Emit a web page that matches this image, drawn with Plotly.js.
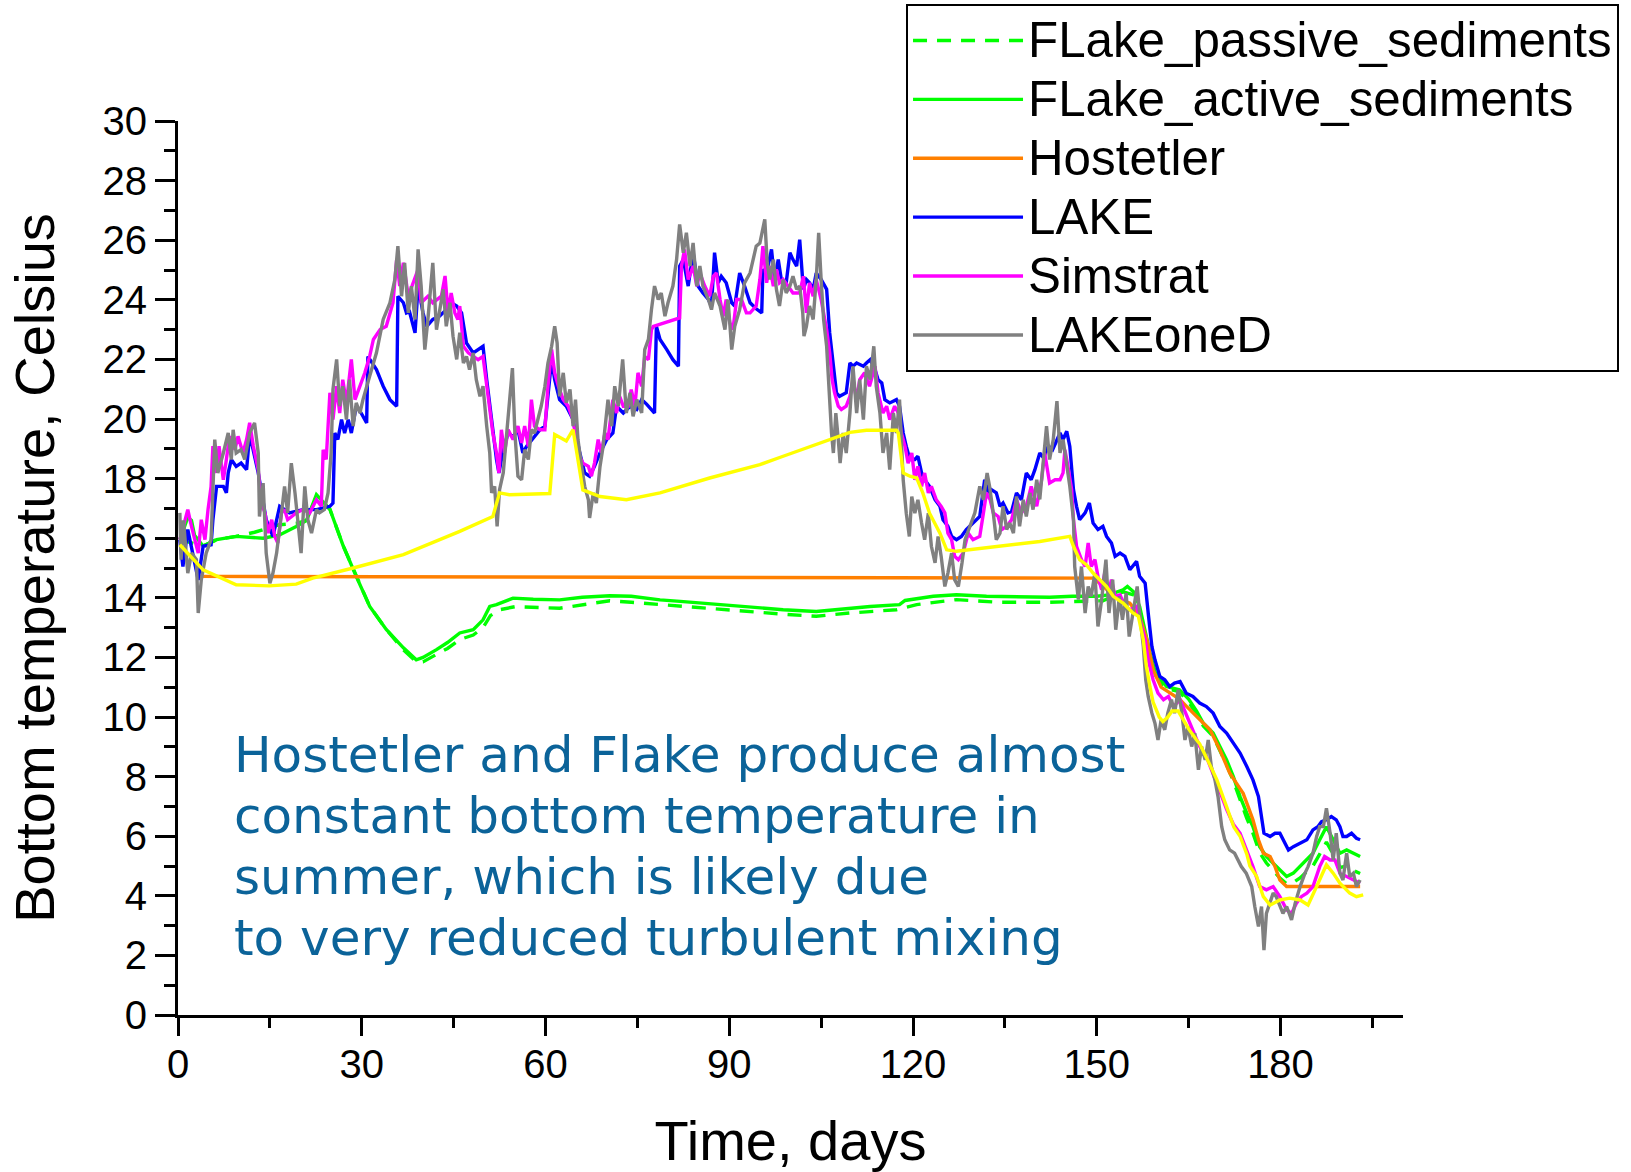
<!DOCTYPE html>
<html>
<head>
<meta charset="utf-8">
<script src="https://cdn.plot.ly/plotly-3.0.1.min.js"></script>
<style>
  html, body { margin: 0; padding: 0; background: #ffffff; }
  #chart { width: 1631px; height: 1172px; }
</style>
</head>
<body>
<div id="chart"></div>
<script>
// ---------------- DATA ----------------
// Time in days, bottom temperature in Celsius

const dayPassive = [0.3,4.1,6.3,9.5,12.5,14.0,16.5,19.3,21.0,22.6,24.8,27.0,29.1,31.3,34.0,36.8,38.9,40.0,42.2,44.0,46.0,48.2,49.8,51.0,52.5,55.0,62.3,66.0,70.5,74.0,78.7,86.8,95.0,98.8,104.2,109.7,117.3,120.6,127.1,134.0,142.0,148.0,151.0,154.3,156.0,157.0,158.0,158.7,159.6,161.4,163.5,165.0,166.3,167.4,169.0,170.1,171.2,172.3,173.4,174.5,175.5,176.6,177.7,178.8,179.9,181.0,182.1,183.2,184.3,185.3,186.4,187.5,188.6,189.7,190.8,191.9,193.0];
const tPassive = [15.95,15.74,15.95,16.06,16.2,16.3,16.45,16.5,16.6,17.4,16.97,15.73,14.72,13.71,12.94,12.25,11.85,11.85,12.1,12.3,12.6,12.75,13.0,13.4,13.6,13.7,13.65,13.75,13.9,13.85,13.77,13.65,13.49,13.45,13.38,13.49,13.6,13.77,13.94,13.85,13.85,13.9,13.9,14.2,14.1,13.6,12.7,12.05,11.4,10.95,10.85,10.5,10.1,9.7,9.35,8.9,8.4,7.85,7.2,6.6,6.1,5.45,5.1,4.85,4.6,4.4,4.45,4.6,4.8,5.0,5.4,5.8,5.4,4.95,5.0,4.85,4.75];

const dayActive = [0.3,1.0,1.6,2.2,2.7,4.1,6.3,9.5,13.9,16.5,19.3,21.0,22.6,24.8,27.0,29.1,31.3,34.0,36.8,38.9,40.0,42.2,44.0,46.0,48.2,49.8,50.9,52.0,54.7,58.0,62.3,66.0,70.5,74.0,78.7,82.0,86.8,91.0,95.0,98.8,104.2,109.0,113.0,117.8,118.7,123.3,127.1,132.0,138.0,142.3,146.0,150.0,152.0,154.3,155.0,156.0,157.0,158.0,158.7,159.6,161.4,163.5,165.0,166.3,167.4,169.0,170.1,171.2,172.3,173.4,174.5,175.5,176.6,177.7,178.8,179.9,181.0,182.1,183.2,184.3,185.3,186.4,187.5,188.6,189.7,190.8,191.9,193.0];
const tActive = [15.95,16.4,16.7,16.6,16.1,15.74,15.95,16.06,16.0,16.1,16.39,16.6,17.46,16.97,15.73,14.72,13.71,12.94,12.32,11.92,12.0,12.26,12.5,12.82,12.93,13.26,13.71,13.77,13.99,13.95,13.93,14.02,14.07,14.05,13.93,13.88,13.8,13.72,13.65,13.6,13.54,13.64,13.71,13.77,13.91,14.05,14.1,14.05,14.04,14.02,14.05,14.05,14.1,14.27,14.38,14.2,13.71,12.8,12.14,11.47,11.02,10.91,10.6,10.2,9.79,9.46,9.01,8.56,8.0,7.33,6.77,6.32,5.65,5.32,5.09,4.87,4.65,4.76,4.98,5.2,5.43,5.88,6.32,5.88,5.43,5.54,5.43,5.32];

const dayHost = [3.0,50.0,100.0,149.5,151.0,153.0,155.4,157.0,158.2,159.2,160.5,162.0,163.5,164.7,166.8,168.5,170.1,171.7,172.8,173.9,174.7,175.5,176.4,177.2,178.3,179.1,179.9,181.0,193.0];
const tHost = [14.72,14.70,14.68,14.66,14.4,14.0,13.82,13.38,12.59,11.58,11.0,10.8,10.6,10.35,9.9,9.57,8.9,8.12,7.78,7.44,7.0,6.55,5.88,5.43,5.32,4.98,4.53,4.31,4.31];

const dayLake = [0.3,0.8,1.6,2.4,3.3,4.1,5.4,5.7,6.3,7.4,7.9,8.2,8.7,9.5,10.3,11.2,11.7,13.1,14.4,15.5,16.6,18.2,20.4,22.6,24.8,25.3,25.6,26.1,26.7,27.2,27.8,28.3,29.1,29.9,30.8,31.0,32.4,33.5,34.6,35.7,35.9,36.8,37.3,37.8,38.7,39.2,40.0,40.6,41.6,42.7,43.8,44.6,45.5,46.3,47.1,48.2,49.0,49.8,50.4,50.9,51.4,52.0,52.4,53.1,53.9,54.7,55.5,56.3,56.9,57.7,59.1,59.9,60.4,61.0,61.5,62.3,63.4,64.5,65.6,66.4,67.2,68.0,68.9,70.0,71.0,71.6,72.7,73.8,74.9,75.7,76.5,77.8,78.1,78.7,79.8,80.8,81.7,81.9,82.5,83.3,84.1,84.9,85.7,86.6,87.1,87.6,88.2,88.7,89.5,90.4,90.9,91.7,92.5,93.4,94.4,95.3,95.5,96.1,96.9,97.4,98.0,98.5,99.3,99.9,100.4,101.0,101.5,102.1,102.6,103.1,103.7,104.2,105.0,105.9,106.4,107.0,107.5,108.0,109.1,109.7,110.2,110.8,111.9,112.4,113.0,113.8,114.3,114.9,115.4,116.2,117.3,117.8,118.4,118.9,119.5,120.3,120.8,121.4,121.9,122.7,123.6,124.4,124.9,125.7,126.3,127.1,127.9,128.7,129.8,130.9,131.7,132.3,132.8,133.6,134.2,134.7,135.5,136.1,136.9,137.7,138.5,139.3,139.9,140.7,141.3,142.1,142.8,144.0,144.5,145.1,145.6,146.2,146.7,147.2,148.1,148.8,149.4,150.2,151.0,151.6,152.4,153.0,153.8,154.6,155.4,156.5,157.0,157.9,158.4,159.0,159.5,160.3,161.1,161.9,162.7,163.6,164.6,165.7,166.8,167.9,169.0,170.1,171.2,172.3,173.4,174.5,175.5,176.4,176.9,177.3,178.3,179.1,179.9,180.7,181.3,182.1,183.2,184.3,185.3,186.1,186.7,187.5,188.3,189.1,189.7,190.2,190.8,191.6,192.4,193.0];
const tLake = [15.95,15.05,16.29,15.5,14.6,15.73,15.78,16.62,17.74,17.74,17.52,18.19,18.64,18.41,18.52,18.3,19.5,18.19,16.62,16.06,17.07,16.85,16.96,16.96,17.07,17.18,19.53,19.31,19.98,19.53,19.98,19.53,20.43,20.2,19.87,22.1,21.66,21.1,20.65,20.43,24.12,23.9,23.56,23.6,22.89,24.46,23.56,23.11,23.34,23.45,23.67,23.9,23.79,23.56,22.55,22.22,22.33,22.44,21.32,20.43,19.53,18.64,18.19,18.97,19.53,19.4,19.64,18.86,19.08,19.3,19.64,19.76,20.88,21.99,21.32,20.65,20.43,19.98,18.86,18.19,18.08,18.41,18.86,19.31,19.53,20.43,20.2,20.43,20.32,20.65,20.5,20.2,23.11,22.67,22.33,21.99,21.77,25.13,25.35,24.46,25.58,24.46,24.23,24.01,23.79,25.58,24.57,24.79,24.57,23.9,23.79,24.9,24.46,23.9,23.7,23.56,25.02,24.9,25.69,24.68,25.35,24.68,24.57,25.58,25.35,25.13,26.02,24.35,24.68,24.57,24.35,24.9,24.68,24.35,22.89,21.77,20.88,20.76,20.88,21.88,21.77,21.88,21.77,21.88,21.99,21.66,21.32,21.21,20.65,20.54,20.65,20.43,19.53,19.08,18.64,18.64,18.75,18.19,17.96,17.74,17.29,17.07,16.62,16.4,16.06,15.95,16.06,16.29,16.51,16.73,17.96,17.52,17.63,17.52,17.07,17.18,16.85,16.9,17.52,17.29,18.19,17.96,18.3,18.86,18.7,19.1,18.97,19.53,19.31,19.59,19.08,17.63,17.07,16.62,16.85,17.18,16.51,16.29,16.4,16.06,15.84,15.39,15.5,15.39,14.94,15.22,14.72,14.49,13.49,12.37,11.92,11.36,11.25,11.02,11.14,11.19,10.8,10.69,10.47,10.35,10.13,9.68,9.46,9.12,8.79,8.34,7.89,7.33,6.55,6.1,5.99,6.1,6.1,5.76,5.54,5.65,5.76,5.88,6.21,6.32,6.49,6.55,6.66,6.55,6.32,5.99,5.99,6.1,5.93,5.88];

const daySim = [0.3,1.1,1.6,2.2,2.7,3.3,3.8,4.4,4.9,5.4,5.7,6.3,6.7,7.4,7.9,8.4,9.3,9.8,10.6,11.2,11.7,12.3,13.1,13.6,14.2,14.7,15.3,15.8,16.3,16.9,17.4,17.9,19.3,20.4,21.5,22.6,23.4,23.7,24.2,24.8,25.3,25.9,26.4,26.9,27.5,28.3,28.9,29.7,30.5,31.3,31.9,33.0,34.0,35.1,35.7,36.2,36.8,37.6,38.4,39.2,39.7,40.8,41.6,42.2,43.0,43.6,44.1,44.6,45.2,45.7,46.0,46.6,47.4,48.2,49.0,49.8,50.4,50.9,51.4,52.0,52.4,52.8,53.3,53.9,54.7,55.5,56.1,56.6,57.2,57.7,58.2,59.1,59.9,60.4,61.0,61.5,62.1,62.9,63.7,64.5,65.3,66.1,67.0,67.5,68.0,68.6,69.1,69.7,70.2,71.0,71.6,72.1,72.7,73.5,74.0,74.6,75.1,75.7,76.2,76.8,77.3,77.6,81.9,82.2,82.7,83.3,84.1,84.7,85.2,86.0,86.8,87.4,87.9,88.5,89.0,89.5,90.1,90.6,91.2,92.0,92.8,93.4,94.4,95.0,95.5,96.1,96.6,97.2,97.7,98.2,98.8,99.6,100.4,101.5,102.1,102.6,103.1,103.7,104.2,105.0,105.9,106.4,106.8,107.2,107.8,108.3,109.1,109.7,110.2,110.8,111.3,112.1,112.9,113.8,114.3,115.1,115.7,116.2,117.0,117.6,118.1,118.7,119.2,119.8,120.3,120.8,121.4,121.9,122.5,123.0,123.8,124.6,125.2,125.7,126.3,126.8,127.4,128.2,129.0,129.8,130.9,131.5,132.0,132.6,133.1,133.9,134.5,135.3,136.1,136.9,137.7,138.5,139.3,140.2,141.0,141.5,142.3,143.2,144.0,144.5,144.8,145.3,145.9,146.2,146.7,147.5,148.1,148.6,149.1,149.7,150.2,150.8,151.3,151.9,152.4,153.0,153.8,154.6,155.4,156.5,157.3,157.9,158.4,159.2,160.0,160.9,161.7,162.5,163.6,164.7,165.7,166.8,167.9,169.0,170.1,171.2,172.3,173.4,174.5,175.5,176.6,177.7,178.8,179.9,181.0,181.8,182.6,183.4,184.3,185.3,186.4,187.2,188.1,188.9,189.7,190.8,191.9,193.0];
const tSim = [15.95,16.62,16.96,16.4,15.95,15.5,16.62,15.95,16.96,17.74,19.09,18.19,19.09,17.96,18.64,19.42,18.97,19.42,18.86,19.31,19.87,19.09,18.3,17.18,16.85,16.17,16.62,16.06,15.84,16.85,16.96,16.62,16.85,16.96,16.85,17.29,17.07,18.97,18.64,20.88,19.98,21.1,20.2,21.32,20.54,22.0,20.65,21.1,21.55,22.11,22.67,23.0,23.11,23.9,25.35,24.46,25.24,24.12,24.57,25.02,23.9,24.12,23.9,24.0,24.12,24.8,23.56,24.23,23.56,23.34,23.79,22.44,22.22,22.1,21.99,22.1,21.1,20.2,19.53,18.86,18.19,19.64,18.86,19.64,19.31,19.76,19.2,19.76,19.08,20.65,19.76,19.64,19.64,21.1,22.33,21.55,21.1,20.65,20.43,19.98,18.86,18.52,18.41,18.08,18.52,19.31,18.86,19.53,19.31,20.65,20.2,20.76,20.43,20.43,20.99,20.43,21.55,21.1,22.1,21.99,23.0,23.11,23.39,25.13,25.69,24.68,25.13,24.46,24.9,24.46,24.12,24.79,24.9,24.01,23.45,24.01,23.23,23.0,24.01,24.01,23.56,23.56,23.79,24.68,25.8,24.57,25.13,24.46,25.02,24.57,24.68,24.46,24.23,24.23,24.79,23.56,24.57,24.12,24.68,24.01,23.0,22.22,21.32,20.88,20.43,20.32,20.43,20.76,21.32,20.65,21.32,21.55,21.1,21.77,20.88,20.2,20.43,19.98,20.43,20.2,19.53,19.08,18.52,18.86,17.96,18.41,17.74,18.19,17.52,17.74,17.29,17.07,16.85,16.17,15.95,15.39,15.28,15.5,16.17,15.95,16.06,16.85,17.52,17.29,16.85,16.73,16.29,16.4,16.62,17.29,16.85,17.07,17.74,17.07,17.96,18.86,17.85,17.96,17.96,18.19,18.97,18.41,17.63,16.62,15.73,15.28,15.05,15.84,15.05,15.28,14.72,14.27,14.83,14.16,14.61,14.05,14.1,13.71,13.6,13.71,13.04,12.59,11.92,11.25,10.8,10.58,10.69,10.35,10.58,10.02,9.57,9.01,8.67,8.12,7.5,6.9,6.4,6.1,5.54,4.98,4.31,4.2,4.31,3.97,3.53,3.41,3.75,3.97,4.09,4.31,4.98,5.32,5.2,5.2,4.76,4.65,4.53,4.42];

const dayOneD = [0.3,0.5,0.9,1.6,2.2,3.0,3.3,3.8,4.6,5.4,6.0,6.5,7.4,8.2,8.7,9.0,9.5,10.3,10.9,11.7,12.5,13.1,13.3,13.9,14.4,15.0,15.5,16.1,16.9,17.4,17.9,18.5,19.1,19.6,20.1,20.7,21.2,21.8,22.6,23.1,23.9,24.5,25.0,25.3,25.9,26.4,26.9,27.5,28.0,28.6,29.1,29.7,30.2,31.3,32.4,33.5,34.6,35.4,35.9,36.5,37.0,37.6,38.1,38.7,39.2,39.7,40.3,40.8,41.6,42.2,42.7,43.3,43.8,44.4,44.9,45.5,46.0,46.6,47.1,47.6,48.2,48.7,49.3,49.8,50.4,50.9,51.2,51.7,52.1,52.5,53.1,53.6,54.2,54.6,55.0,55.5,56.1,56.6,57.2,57.7,58.2,58.8,59.3,59.9,60.4,61.0,61.5,61.9,62.3,62.9,63.4,64.0,64.5,64.9,65.3,65.9,66.4,67.0,67.2,67.8,68.3,68.9,69.4,70.2,70.8,71.3,71.9,72.6,73.2,73.8,74.3,74.9,75.7,76.2,76.8,77.3,77.8,78.4,78.9,79.5,80.0,80.8,81.4,81.9,82.5,83.0,83.6,84.1,84.7,85.2,85.7,86.6,87.1,87.6,88.5,89.3,89.8,90.4,90.9,91.7,92.5,93.4,94.4,95.0,95.4,95.8,96.2,96.6,97.2,97.7,98.2,98.8,99.3,99.9,100.4,101.0,101.5,102.0,102.2,102.6,103.1,103.7,104.2,104.6,105.0,105.4,105.9,106.3,106.7,107.0,107.4,107.8,108.1,108.6,109.1,109.7,110.2,110.8,111.3,111.9,112.4,113.0,113.6,114.0,114.6,115.1,115.7,116.2,116.8,117.3,117.8,118.4,118.9,119.4,119.8,120.3,120.8,121.4,121.9,122.5,123.0,123.6,124.1,124.6,125.2,125.7,126.3,126.8,127.4,128.0,128.5,129.3,130.1,130.9,131.5,132.1,132.5,133.1,133.6,134.2,134.7,135.3,135.8,136.4,136.9,137.4,138.0,138.5,139.1,139.6,140.2,140.7,141.3,141.8,142.3,142.9,143.5,144.0,144.5,145.1,145.6,146.2,146.4,147.0,147.5,148.1,148.6,149.1,149.7,150.2,150.8,151.5,152.0,152.6,153.1,153.7,154.2,154.8,155.3,156.0,156.6,157.0,157.6,158.0,158.4,159.0,159.5,160.0,160.5,161.1,161.6,162.2,162.7,163.3,163.9,164.4,164.9,165.5,166.0,166.6,167.1,167.7,168.2,168.7,169.3,169.8,170.4,170.9,171.7,172.5,173.1,173.6,174.4,175.3,175.8,176.4,176.9,177.3,177.7,178.3,178.8,179.3,179.9,180.4,181.0,181.8,182.4,183.2,184.0,184.5,185.3,185.9,186.4,187.0,187.5,188.1,188.6,189.1,189.7,190.2,190.8,191.3,191.9,192.4,193.0];
const tOneD = [16.85,15.28,16.6,14.83,15.5,15.28,13.49,14.6,15.5,15.95,19.31,18.19,18.86,19.53,18.64,19.64,18.86,18.97,18.64,19.53,19.87,18.86,16.73,17.85,15.5,14.49,14.83,15.5,16.85,17.74,16.85,18.52,17.52,16.62,15.5,17.74,16.62,16.17,16.96,16.85,16.96,17.52,18.86,20.99,22.0,20.43,21.1,19.98,21.32,19.76,20.54,20.2,20.65,21.44,22.22,23.34,23.9,24.68,25.8,24.12,25.24,23.56,24.46,23.34,25.69,24.46,22.33,23.34,25.24,23.0,23.67,24.35,23.11,23.9,22.78,22.0,22.9,21.88,22.1,21.66,22.22,21.32,20.76,21.1,19.76,18.86,17.52,17.74,16.4,17.63,18.19,19.31,20.54,21.71,19.53,18.08,17.96,18.97,18.64,19.64,19.53,19.98,20.43,21.1,21.88,22.44,23.11,22.55,20.76,21.55,20.54,20.99,19.76,20.65,19.31,18.41,17.74,17.29,16.68,17.52,17.18,18.41,19.08,20.65,19.76,21.1,20.43,22.0,20.2,20.88,20.09,20.65,20.2,22.33,22.67,23.67,24.46,24.01,24.23,23.45,23.9,24.46,25.35,26.53,25.58,26.25,25.13,25.91,24.46,25.13,24.46,24.01,23.67,24.23,23.79,23.0,24.01,22.33,23.11,23.67,24.57,24.9,25.8,25.9,26.36,26.7,25.24,24.68,25.35,24.35,23.79,24.68,24.23,24.46,24.79,24.35,24.46,23.56,22.78,23.11,23.79,23.34,24.68,26.25,24.68,23.34,22.44,20.88,19.53,18.86,20.2,19.31,18.52,19.53,18.86,20.2,21.77,20.2,21.32,19.98,21.77,21.32,22.44,21.1,20.2,18.86,19.53,18.3,20.2,19.53,20.65,17.96,16.84,16.06,17.4,16.84,17.29,16.51,15.95,16.84,15.73,15.17,16.06,15.39,14.38,14.83,15.5,14.61,14.38,15.17,15.95,16.4,16.85,17.74,17.29,18.19,17.74,16.85,15.95,16.17,17.07,16.29,16.51,16.17,17.4,16.4,17.29,16.73,17.52,16.96,17.96,17.3,18.52,19.76,18.64,19.31,20.6,18.86,19.31,18.41,17.74,16.62,15.05,13.94,15.05,13.49,14.38,14.05,14.83,13.04,13.94,15.28,13.49,14.61,12.93,14.05,13.26,14.16,12.7,13.6,14.38,13.49,12.37,11.25,10.69,10.13,9.79,9.23,9.9,9.57,10.13,10.58,10.13,10.91,10.13,9.23,9.68,9.01,9.46,8.23,9.01,8.56,9.23,8.34,7.89,7.33,6.32,5.88,5.54,5.43,5.2,4.98,4.76,4.31,3.64,2.97,3.64,2.18,3.41,3.75,4.09,3.97,3.64,3.41,3.64,3.19,3.75,4.31,4.76,4.98,5.43,5.99,6.32,6.32,6.94,6.1,5.2,6.1,4.76,4.53,5.43,4.65,4.76,4.31,4.53];

// unlabeled yellow series
const dayYellow = [0.3,4.1,9.5,14.9,19.3,22.0,28.6,36.8,46.0,51.4,52.5,54.1,60.7,61.5,63.4,64.5,66.1,68.9,73.2,78.7,86.8,95.0,98.8,104.2,109.7,112.4,117.3,117.6,118.4,119.5,120.6,121.6,122.7,124.4,125.5,127.1,129.3,134.2,140.7,145.6,146.2,147.2,148.3,149.4,150.5,151.6,152.7,154.3,155.9,156.8,157.6,158.1,158.7,159.2,160.2,160.8,161.6,162.3,163.3,164.0,165.0,166.3,166.8,168.0,169.6,171.0,172.4,173.4,174.5,175.0,176.1,177.2,178.3,179.9,181.5,183.2,184.5,185.9,187.5,188.6,189.7,191.3,192.4,193.5];
const tYellow = [15.78,14.94,14.44,14.4,14.46,14.66,15.0,15.45,16.23,16.73,17.52,17.46,17.5,19.48,19.26,19.64,17.62,17.4,17.29,17.52,18.02,18.47,18.75,19.14,19.55,19.62,19.62,19.53,18.19,18.08,18.02,17.52,16.84,16.17,15.61,15.56,15.61,15.73,15.89,16.06,15.73,15.28,15.11,14.83,14.61,14.38,14.05,13.82,13.49,13.38,12.59,11.7,11.0,10.5,10.0,9.85,10.0,10.2,10.2,9.95,9.6,9.23,9.1,8.6,7.9,7.1,6.3,6.0,5.4,5.0,4.65,3.97,3.69,3.86,3.92,3.86,3.69,4.31,5.04,4.76,4.42,4.09,3.97,4.03];

const seriesNames = ['FLake_passive_sediments','FLake_active_sediments','Hostetler','LAKE','Simstrat','LAKEoneD'];
const noteLines = [
  'Hostetler and Flake produce almost',
  'constant bottom temperature in',
  'summer, which is likely due',
  'to very reduced turbulent mixing'
];
const xTitle = 'Time, days';
const yTitle = 'Bottom temperature, Celsius';

// ---------------- CHART ----------------
const LW = 3.4;
// legend label drawn slightly larger than the legend row font (keeps the tighter row spacing)
const lbl = s => '<span style="font-size:49.3px">' + s + '</span>';

const traces = [
  {x: dayPassive, y: tPassive, name: lbl(seriesNames[0]), line: {color: '#00ff00', width: LW, dash: '14px,10px'}},
  {x: dayActive,  y: tActive,  name: lbl(seriesNames[1]), line: {color: '#00ff00', width: LW}},
  {x: dayHost,    y: tHost,    name: lbl(seriesNames[2]), line: {color: '#ff8000', width: LW}},
  {x: dayLake,    y: tLake,    name: lbl(seriesNames[3]), line: {color: '#0000ff', width: LW}},
  {x: daySim,     y: tSim,     name: lbl(seriesNames[4]), line: {color: '#ff00ff', width: LW}},
  {x: dayOneD,    y: tOneD,    name: lbl(seriesNames[5]), line: {color: '#808080', width: LW}},
  {x: dayYellow,  y: tYellow,  name: 'yellow', showlegend: false, line: {color: '#ffff00', width: LW}}
].map(t => Object.assign({type: 'scatter', mode: 'lines', hoverinfo: 'skip'}, t));

const FONT = 'Liberation Sans, Arial, Helvetica, sans-serif';
const noteY = [8.74, 6.69, 4.64, 2.60];

const layout = {
  width: 1631, height: 1172,
  paper_bgcolor: '#ffffff', plot_bgcolor: '#ffffff',
  margin: {l: 178, r: 228, t: 121, b: 157, pad: 0, autoexpand: false},
  font: {family: FONT, color: '#000000'},
  showlegend: true,
  legend: {
    xref: 'container', yref: 'container',
    x: 0.5555, y: 0.9966, xanchor: 'left', yanchor: 'top',
    bgcolor: '#ffffff', bordercolor: '#000000', borderwidth: 2,
    font: {family: FONT, size: 43, color: '#000000'},
    itemwidth: 110, traceorder: 'normal'
  },
  xaxis: {
    range: [0, 200], autorange: false,
    tick0: 0, dtick: 30, ticks: 'outside', ticklen: 18, tickwidth: 3, tickcolor: '#000',
    ticklabelstandoff: -6,
    showline: true, linewidth: 3, linecolor: '#000', showgrid: false, zeroline: false,
    tickfont: {family: FONT, size: 40, color: '#000'},
    minor: {dtick: 15, tick0: 0, ticks: 'outside', ticklen: 10, tickwidth: 3, tickcolor: '#000', showgrid: false},
    title: {text: xTitle, font: {family: FONT, size: 56, color: '#000'}, standoff: 36},
    automargin: false
  },
  yaxis: {
    range: [0, 30], autorange: false,
    tick0: 0, dtick: 2, ticks: 'outside', ticklen: 20, tickwidth: 3, tickcolor: '#000',
    showline: true, linewidth: 3, linecolor: '#000', showgrid: false, zeroline: false,
    tickfont: {family: FONT, size: 40, color: '#000'},
    minor: {dtick: 1, tick0: 0, ticks: 'outside', ticklen: 11, tickwidth: 3, tickcolor: '#000', showgrid: false},
    title: {text: yTitle, font: {family: FONT, size: 56, color: '#000'}, standoff: 30},
    automargin: false
  },
  annotations: noteLines.map((t, i) => ({
    text: t, x: 8.77, y: noteY[i], xref: 'x', yref: 'y',
    xanchor: 'left', yanchor: 'middle', showarrow: false,
    font: {family: 'DejaVu Sans, Verdana, sans-serif', size: 50, color: '#0b6399'}
  }))
};

Plotly.newPlot('chart', traces, layout, {staticPlot: true, displayModeBar: false});
</script>
</body>
</html>
